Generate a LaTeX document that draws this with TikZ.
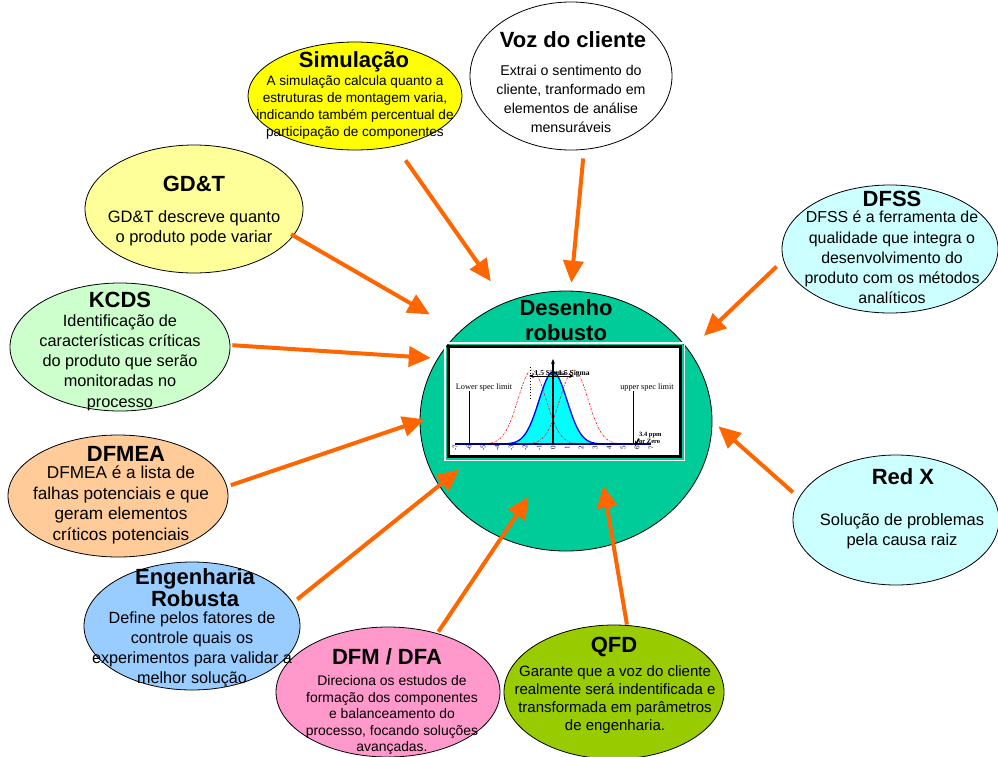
\documentclass[tikz,border=0pt]{standalone}
\usepackage{fontspec}
\setmainfont{Liberation Sans}
\newfontfamily\chartfont{Liberation Serif}
\usetikzlibrary{shapes.geometric, arrows.meta}

\definecolor{arrowc}{HTML}{FF6600}
\definecolor{simfill}{HTML}{FFFF00}
\definecolor{gdtfill}{HTML}{FFFF99}
\definecolor{kcdsfill}{HTML}{CCFFCC}
\definecolor{paleblue}{HTML}{CCFFFF}
\definecolor{corefill}{HTML}{00CC99}
\definecolor{fmeafill}{HTML}{FFCC99}
\definecolor{engfill}{HTML}{99CCFF}
\definecolor{dfmfill}{HTML}{FF99CC}
\definecolor{qfdfill}{HTML}{99CC00}
\definecolor{curvefill}{HTML}{00FFFF}
\definecolor{curveline}{HTML}{0000FF}
\definecolor{axisline}{HTML}{000080}

\newcommand\setfs[2]{\fontsize{#1}{#2}\selectfont}

\tikzset{
  bubble/.style={ellipse, draw=black, line width=0.8pt, inner sep=0pt},
  title/.style={font=\bfseries\setfs{22}{20}, inner sep=0pt, align=center},
  body/.style={align=center, inner sep=0pt},
  feed/.style={draw=arrowc, line width=4pt, -{Triangle[length=22pt, width=20pt]}},
  spec/.style={font=\chartfont\setfs{8.3}{9}, inner sep=0pt},
  sig/.style={font=\chartfont\bfseries\setfs{7.5}{8}, inner sep=0pt},
  tick/.style={font=\chartfont\setfs{7}{7}, inner sep=0pt, rotate=90},
  chartarrow/.style={-{Stealth[length=5pt, width=4pt]}},
}

\begin{document}
\begin{tikzpicture}[x=1pt, y=-1pt]
\useasboundingbox (0,0) rectangle (998,756);

% ---- bubbles ----
\node[bubble, fill=simfill,  minimum width=214pt, minimum height=108pt] (sim)  at (355,96)  {};
\node[bubble, fill=white,    minimum width=202pt, minimum height=148pt] (voz)  at (571,76)  {};
\node[bubble, fill=gdtfill,  minimum width=218pt, minimum height=128pt] (gdt)  at (194,209) {};
\node[bubble, fill=paleblue, minimum width=216pt, minimum height=128pt] (dfss) at (890,249) {};
\node[bubble, fill=kcdsfill, minimum width=220pt, minimum height=128pt] (kcds) at (120,347) {};
\node[bubble, fill=corefill, minimum width=292pt, minimum height=260pt] (core) at (566,421) {};
\node[bubble, fill=fmeafill, minimum width=220pt, minimum height=122pt] (fmea) at (118,496) {};
\node[bubble, fill=paleblue, minimum width=206pt, minimum height=130pt] (redx) at (896,520) {};
\node[bubble, fill=engfill,  minimum width=216pt, minimum height=128pt] (eng)  at (192,626) {};
\node[bubble, fill=dfmfill,  minimum width=224pt, minimum height=130pt] (dfm)  at (388,692) {};
\node[bubble, fill=qfdfill,  minimum width=220pt, minimum height=134pt] (qfd)  at (614,692) {};

% ---- process capability chart ----
\node[draw=black, fill=white, line width=3pt, minimum width=232pt, minimum height=110pt, inner sep=0pt] (chart) at (564.5,401.5) {};
\draw[white, line width=1.5pt] ([shift={(-2.25pt,2.25pt)}]chart.north west) rectangle ([shift={(2.25pt,-2.25pt)}]chart.south east);

\fill[curvefill] plot[domain=-3.3:3.3, samples=80, smooth] ({553+14*\x},{444-72*exp(-0.5*\x*\x)}) -- cycle;
\draw[curveline, line width=1.3pt] plot[domain=-3.3:3.3, samples=80, smooth] ({553+14*\x},{444-72*exp(-0.5*\x*\x)});
\foreach \c in {532,574}
  \draw[red, line width=0.6pt, dash pattern=on 2pt off 1.2pt on 0.6pt off 1.2pt]
    plot[domain=-3.3:3.3, samples=80, smooth] ({\c+14*\x},{444-74*exp(-0.5*\x*\x)});

\draw[axisline, line width=1.2pt] (455,444) -- (651,444);
\foreach \i in {-7,...,7}
  \node[tick] (tk\i) at ({553+14*\i},448) {\i};

\node[spec] (lsl) at (484,387) {Lower spec limit};
\node[spec] (usl) at (647,387) {upper spec limit};
\draw[line width=0.8pt] (469,391) -- (469,444);
\draw[line width=0.8pt] (633,391) -- (633,444);

\draw[line width=0.8pt, dotted] (530,367) -- (530,399);
\draw[line width=1.2pt, chartarrow] (553,444) -- (553,359);
\draw[line width=1pt, {Stealth[length=5pt, width=4pt]}-{Stealth[length=5pt, width=4pt]}] (529,376) -- (574,376);
\node[sig, anchor=west] (minus) at (532,374) {-1.5 Sigma};
\node[sig, anchor=west] (plus)  at (554,374) {+1.5 Sigma};

\node[sig, anchor=west, font=\chartfont\bfseries\setfs{6.5}{7}] (ppm)  at (639,435.5) {3.4 ppm};
\node[sig, anchor=west, font=\chartfont\bfseries\setfs{6.5}{7}] (zero) at (639,441.5) {or Zero};
\coordinate (ppmtip) at (635,446);
\draw[line width=1.6pt, -{Stealth[length=5pt, width=5pt]}] (ppm.south west) -- (ppmtip);

% ---- arrows into the central bubble ----
\draw[feed, shorten <=17.1pt, shorten >=25.6pt] (sim.-51.2)  -- (core.117.5);
\draw[feed, shorten <=8.7pt,  shorten >=8pt]    (voz.-80)    -- (core.88.6);
\draw[feed, shorten <=-2.9pt, shorten >=34.2pt] (gdt.-15.5)  -- (core.140.1);
\draw[feed, shorten <=9.2pt,  shorten >=20.8pt] (dfss.186.3) -- (core.30.6);
\draw[feed, shorten <=2pt,    shorten >=6.8pt]  (kcds.1.1)   -- (core.154.9);
\draw[feed, shorten <=7.9pt,  shorten >=8pt]    (redx.167.3) -- (core.-0.7);
\draw[feed, shorten <=3.9pt,  shorten >=-5.3pt] (fmea.5.7)   -- (core.180.3);
\draw[feed, shorten <=5.4pt,  shorten >=-26pt]  (eng.13.9)   -- (core.207.2);
\draw[feed, shorten <=1.8pt,  shorten >=-49.5pt](dfm.50)     -- (core.241.3);
\draw[feed, shorten <=0.5pt,  shorten >=-59.5pt](qfd.79)     -- (core.291.4);

% ---- titles ----
\node[title] (simT)  at (354,62)  {Simulação};
\node[title] (vozT)  at (573,40)  {Voz do cliente};
\node[title] (gdtT)  at (194,184) {GD\&T};
\node[title] (dfssT) at (892,199) {DFSS};
\node[title] (kcdsT) at (120,300) {KCDS};
\node[title, font=\bfseries\setfs{22}{25}] (coreT) at (566,320.5) {Desenho\\robusto};
\node[title] (fmeaT) at (126,454) {DFMEA};
\node[title] (redxT) at (903,477) {Red X};
\node[title, font=\bfseries\setfs{22}{19}] (engT) at (195,587.5) {Engenharia\\Robusta};
\node[title] (dfmT)  at (387,657) {DFM / DFA};
\node[title] (qfdT)  at (614,647) {QFD};

% ---- descriptions ----
\node[body, font=\setfs{13.6}{16.8}] (simB) at (355,107.5)
  {A simulação calcula quanto a\\estruturas de montagem varia,\\indicando também percentual de\\participação de componentes};
\node[body, font=\setfs{14.2}{19}] (vozB) at (571,98.5)
  {Extrai o sentimento do\\cliente, tranformado em\\elementos de análise\\mensuráveis};
\node[body, font=\setfs{16.5}{20}] (gdtB) at (194,228)
  {GD\&T descreve quanto\\o produto pode variar};
\node[body, font=\setfs{15.9}{20.2}] (dfssB) at (892,257.5)
  {DFSS é a ferramenta de\\qualidade que integra o\\desenvolvimento do\\produto com os métodos\\analíticos};
\node[body, font=\setfs{16.3}{20.2}] (kcdsB) at (120,362.5)
  {Identificação de\\características críticas\\do produto que serão\\monitoradas no\\processo};
\node[body, font=\setfs{17.2}{20.7}] (fmeaB) at (121,505)
  {DFMEA é a lista de\\falhas potenciais e que\\geram elementos\\críticos potenciais};
\node[body, font=\setfs{16.5}{20}] (redxB) at (902,531)
  {Solução de problemas\\pela causa raiz};
\node[body, font=\setfs{16.2}{20}] (engB) at (192,649)
  {Define pelos fatores de\\controle quais os\\experimentos para validar a\\melhor solução};
\node[body, font=\setfs{13.9}{16.5}] (dfmB) at (392,715)
  {Direciona os estudos de\\formação dos componentes\\e balanceamento do\\processo, focando soluções\\avançadas.};
\node[body, font=\setfs{15}{18}] (qfdB) at (615,700)
  {Garante que a voz do cliente\\realmente será indentificada e\\transformada em parâmetros\\de engenharia.};
\end{tikzpicture}
\end{document}
